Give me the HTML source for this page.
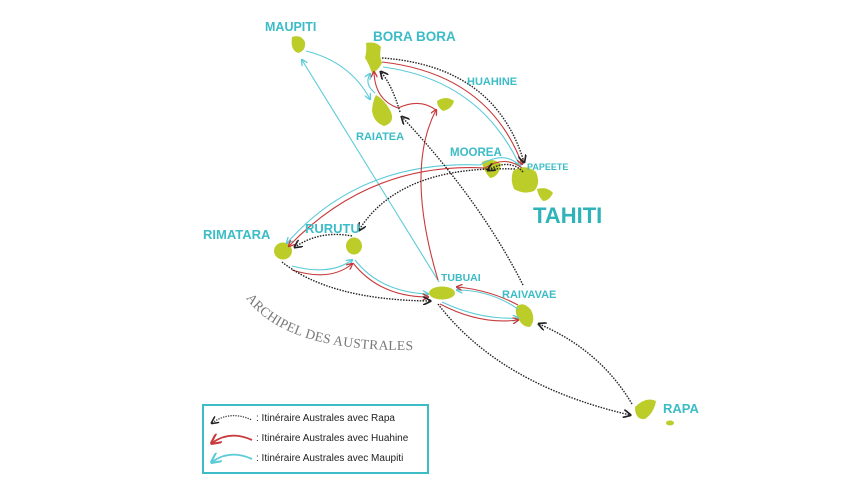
<!DOCTYPE html>
<html><head><meta charset="utf-8"><style>
html,body{margin:0;padding:0;background:#fff;width:861px;height:487px;overflow:hidden}
svg{display:block}
.l{font-family:"Liberation Sans",sans-serif;font-weight:bold;fill:#3cbcc6}
</style></head><body>
<svg width="861" height="487" viewBox="0 0 861 487">
<defs>
<marker id="ak" markerWidth="6" markerHeight="6" refX="5" refY="3" orient="auto"><path d="M0,0 L6,3 L0,6" fill="none" stroke="#222" stroke-width="1.2"/></marker>
<marker id="ar" markerWidth="6" markerHeight="6" refX="5" refY="3" orient="auto"><path d="M0,0 L6,3 L0,6" fill="none" stroke="#c83a3c" stroke-width="1.2"/></marker>
<marker id="ac" markerWidth="6" markerHeight="6" refX="5" refY="3" orient="auto"><path d="M0,0 L6,3 L0,6" fill="none" stroke="#5ccbd8" stroke-width="1.2"/></marker>
<marker id="sk" markerWidth="6" markerHeight="6" refX="1" refY="3" orient="auto"><path d="M6,0 L0,3 L6,6" fill="none" stroke="#222" stroke-width="1.2"/></marker>
<marker id="sr" markerWidth="6" markerHeight="6" refX="1" refY="3" orient="auto"><path d="M6,0 L0,3 L6,6" fill="none" stroke="#c83a3c" stroke-width="1.2"/></marker>
<marker id="sc" markerWidth="6" markerHeight="6" refX="1" refY="3" orient="auto"><path d="M6,0 L0,3 L6,6" fill="none" stroke="#5ccbd8" stroke-width="1.2"/></marker>
<path id="arch" d="M246,298 Q285,352 412,350"/>
</defs>
<g fill="#bccd2a">
<path d="M292,37 Q301,34 305,42 Q306,51 298,53 Q290,50 292,37Z"/>
<path d="M366,43 Q376,41 381,47 Q379,56 382,63 Q378,71 372,73 Q369,64 365,58 Q367,50 366,43Z"/>
<path d="M376,95 Q385,100 391,112 Q395,123 384,126 Q373,122 372,110 Q373,100 376,95Z"/>
<path d="M437,101 Q446,95 454,101 Q452,109 443,111 Q437,107 437,101Z"/>
<path d="M482,162 Q492,157 501,164 Q499,177 490,178 Q483,170 482,162Z"/>
<path d="M513,171 Q525,163 536,172 Q541,184 534,191 Q524,195 514,189 Q510,180 513,171Z"/>
<path d="M537,189 Q547,186 553,193 Q549,201 543,201 Q538,196 537,189Z"/>
<ellipse cx="283" cy="251" rx="9" ry="8.5"/>
<ellipse cx="354" cy="246" rx="8" ry="8.5"/>
<ellipse cx="442" cy="293" rx="13" ry="6.5"/>
<path d="M517,306 Q524,301 531,310 Q536,320 530,327 Q522,327 518,318 Q514,312 517,306Z"/>
<path d="M635,407 Q646,396 656,401 Q654,413 645,419 Q635,420 635,407Z"/>
<ellipse cx="670" cy="423" rx="4" ry="2.5"/>
</g>
<g fill="none" stroke-width="1.1">
<g stroke="#5ccbd8">
<path d="M383,67 Q480,80 520,166" marker-end="url(#ac)"/>
<path d="M306,51 Q350,62 370,99" marker-end="url(#ac)"/>
<path d="M375,93 Q364,84 370,74" marker-end="url(#ac)"/>
<path d="M439,282 L302,60" marker-end="url(#ac)"/>
<path d="M520,166 Q505,150 480,165 Q360,160 287,243" marker-end="url(#ac)"/>
<path d="M292,266 Q330,276 352,260" marker-end="url(#ac)"/>
<path d="M355,260 Q380,292 428,294" marker-end="url(#ac)"/>
<path d="M518,309 Q490,290 457,290" marker-end="url(#ac)"/>
<path d="M442,302 Q480,320 518,318" marker-end="url(#ac)"/>
</g>
<g stroke="#c83a3c">
<path d="M382,62 Q488,74 522,164" marker-end="url(#ar)"/>
<path d="M522,168 Q505,155 485,168 Q370,162 289,246" marker-end="url(#ar)"/>
<path d="M292,270 Q330,282 352,264" marker-end="url(#ar)"/>
<path d="M353,263 Q380,297 428,297" marker-end="url(#ar)"/>
<path d="M518,305 Q490,290 457,287" marker-end="url(#ar)"/>
<path d="M440,304 Q480,325 518,320" marker-end="url(#ar)"/>
<path d="M438,280 Q405,170 436,110" marker-end="url(#ar)"/>
<path d="M436,110 Q420,98 398,108"/>
<path d="M398,108 Q375,100 374,72" marker-end="url(#ar)"/>
</g>
<g stroke="#222" stroke-width="1.4" stroke-dasharray="1.5 1.3">
<path d="M382,58 Q495,66 524,162" marker-end="url(#ak)"/>
<path d="M523,172 Q510,158 488,170" marker-end="url(#ak)"/>
<path d="M515,169 Q400,165 359,230" marker-end="url(#ak)"/>
<path d="M352,236 Q320,230 295,247" marker-end="url(#ak)"/>
<path d="M282,262 Q330,300 430,301" marker-end="url(#ak)"/>
<path d="M438,304 Q500,385 630,415" marker-end="url(#ak)"/>
<path d="M632,404 Q600,350 539,324" marker-end="url(#ak)"/>
<path d="M523,285 Q480,200 402,117" marker-end="url(#ak)"/>
<path d="M400,112 Q392,85 381,72" marker-end="url(#ak)"/>
</g>
</g>
<text class="l" x="265" y="31" font-size="12.5">MAUPITI</text>
<text class="l" x="373" y="41" font-size="13.5">BORA BORA</text>
<text class="l" x="467" y="85" font-size="11">HUAHINE</text>
<text class="l" x="356" y="140" font-size="11">RAIATEA</text>
<text class="l" x="450" y="156" font-size="11.5">MOOREA</text>
<text class="l" x="527" y="170" font-size="9">PAPEETE</text>
<text class="l" x="533" y="223" font-size="22" style="fill:#2db3b8">TAHITI</text>
<text class="l" x="203" y="239" font-size="13">RIMATARA</text>
<text class="l" x="305" y="233" font-size="13">RURUTU</text>
<text class="l" x="441" y="281" font-size="10.5">TUBUAI</text>
<text class="l" x="502" y="298" font-size="11">RAIVAVAE</text>
<text class="l" x="663" y="413" font-size="13">RAPA</text>
<text font-family="Liberation Serif,serif" font-size="13.5" fill="#777" letter-spacing="0.3"><textPath href="#arch">ARCHIPEL DES AUSTRALES</textPath></text>
<rect x="203" y="405" width="225" height="68" fill="#fff" stroke="#3cbcc6" stroke-width="2"/>
<g fill="none" stroke-width="1.3">
<path d="M212,423 Q230,410 252,420" stroke="#444" stroke-dasharray="1.3 1.2" marker-start="url(#sk)"/>
<path d="M212,443 Q230,430 252,440" stroke="#c83a3c" stroke-width="1.8" marker-start="url(#sr)"/>
<path d="M212,462 Q230,449 252,459" stroke="#5ccbd8" stroke-width="1.8" marker-start="url(#sc)"/>
</g>
<g font-family="Liberation Sans,sans-serif" font-size="10" fill="#222">
<text x="256" y="421">: Itinéraire Australes avec Rapa</text>
<text x="256" y="441">: Itinéraire Australes avec Huahine</text>
<text x="256" y="461">: Itinéraire Australes avec Maupiti</text>
</g>
</svg>
</body></html>
